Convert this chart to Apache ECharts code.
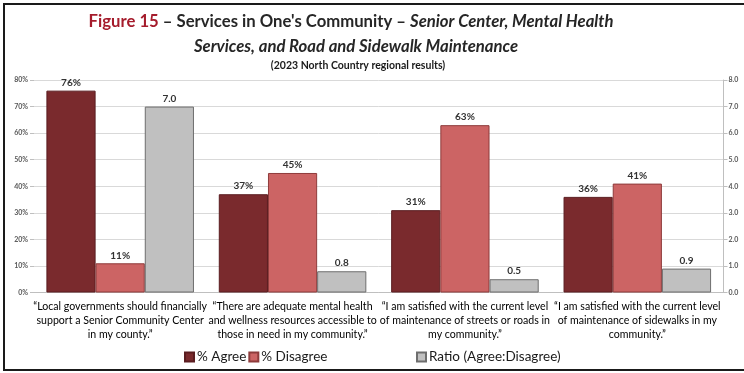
<!DOCTYPE html>
<html>
<head>
<meta charset="utf-8">
<script src="https://cdn.jsdelivr.net/npm/echarts@6/dist/echarts.min.js"></script>
<style>
  html, body { margin: 0; padding: 0; background: #fff; }
  #chart { width: 744px; height: 373px; }
</style>
</head>
<body>
<div id="chart"></div>
<script>
// Survey statements (category axis)
const categories = [
  '“Local governments should financially\nsupport a Senior Community Center\nin my county.”',
  '“There are adequate mental health\nand wellness resources accessible to\nthose in need in my community.”',
  '“I am satisfied with the current level\nof maintenance of streets or roads in\nmy community.”',
  '“I am satisfied with the current level\nof maintenance of sidewalks in my\ncommunity.”'
];
// Percent agreeing / disagreeing, and the agree:disagree ratio
const agreePct = [76, 37, 31, 36];
const disagreePct = [11, 45, 63, 41];
const ratioAgreeDisagree = [7.0, 0.8, 0.5, 0.9];
// Axis ranges
const pctMax = 80, pctStep = 10;
const ratioMax = 8, ratioStep = 1;

const FONT = 'Lato, "Open Sans", sans-serif';
const chart = echarts.init(document.getElementById('chart'), null, { renderer: 'canvas' });

const barLabel = (fmt) => ({
  show: true,
  position: 'top',
  distance: 3,
  fontFamily: FONT,
  fontSize: 10,
  fontWeight: 'bold',
  color: '#333',
  formatter: fmt
});

chart.setOption({
  backgroundColor: '#fff',
  animation: false,
  textStyle: { fontFamily: FONT },
  grid: { left: 34, right: 20.5, top: 80, bottom: 80.5, containLabel: false },
  graphic: [
    {
      type: 'rect',
      shape: { x: 4, y: 4, width: 760, height: 366 },
      style: { fill: 'none', stroke: '#1a1a1a', lineWidth: 2 },
      silent: true
    },
    {
      type: 'text',
      x: 351, y: 22,
      style: {
        text: '{r|Figure 15}{d| – Services in One\'s Community – }{i|Senior Center, Mental Health}',
        textAlign: 'center',
        textVerticalAlign: 'middle',
        rich: {
          r: { fontFamily: FONT, fontSize: 16.7, fontWeight: 'bold', fill: '#a51c2c', color: '#a51c2c' },
          d: { fontFamily: FONT, fontSize: 16.7, fontWeight: 'bold', fill: '#262626', color: '#262626' },
          i: { fontFamily: FONT, fontSize: 16.7, fontWeight: 'bold', fontStyle: 'italic', fill: '#262626', color: '#262626' }
        }
      }
    },
    {
      type: 'text',
      x: 356, y: 47,
      style: {
        text: 'Services, and Road and Sidewalk Maintenance',
        textAlign: 'center',
        textVerticalAlign: 'middle',
        font: 'italic bold 16.7px ' + FONT,
        fill: '#262626'
      }
    },
    {
      type: 'text',
      x: 358, y: 66,
      style: {
        text: '(2023 North Country regional results)',
        textAlign: 'center',
        textVerticalAlign: 'middle',
        font: 'bold 10.5px ' + FONT,
        fill: '#1a1a1a'
      }
    }
  ],
  legend: [
    {
      data: ['% Agree', '% Disagree'],
      left: 179, top: 345,
      icon: 'rect', itemWidth: 9, itemHeight: 9, itemGap: 2,
      textStyle: { fontFamily: FONT, fontSize: 13.5, color: '#1a1a1a', padding: [0, 0, 0, -2] }
    },
    {
      data: ['Ratio (Agree:Disagree)'],
      left: 411, top: 345,
      icon: 'rect', itemWidth: 9, itemHeight: 9,
      textStyle: { fontFamily: FONT, fontSize: 13.5, color: '#1a1a1a', padding: [0, 0, 0, -2] }
    }
  ],
  xAxis: {
    type: 'category',
    data: categories,
    axisLine: { show: true, lineStyle: { color: '#bfbfbf', width: 1 } },
    axisTick: { show: false },
    axisLabel: {
      interval: 0,
      margin: 7,
      fontFamily: FONT,
      fontSize: 10.6,
      lineHeight: 14,
      color: '#000',
      align: 'center'
    }
  },
  yAxis: [
    {
      type: 'value',
      min: 0, max: pctMax, interval: pctStep,
      axisLine: { show: false },
      axisTick: { show: true, length: 4, lineStyle: { color: '#bfbfbf' } },
      splitLine: { show: true, lineStyle: { color: '#d9d9d9', width: 1 } },
      axisLabel: {
        margin: 6,
        fontFamily: FONT, fontSize: 7, fontWeight: 'bold', color: '#595959',
        formatter: (v) => v + '%'
      }
    },
    {
      type: 'value',
      min: 0, max: ratioMax, interval: ratioStep,
      axisLine: { show: true, lineStyle: { color: '#bfbfbf', width: 1 } },
      axisTick: { show: true, length: 4, lineStyle: { color: '#bfbfbf' } },
      splitLine: { show: false },
      axisLabel: {
        margin: 5,
        fontFamily: FONT, fontSize: 7, fontWeight: 'bold', color: '#595959',
        formatter: (v) => v.toFixed(1)
      }
    }
  ],
  series: [
    {
      name: '% Agree',
      type: 'bar',
      yAxisIndex: 0,
      data: agreePct,
      barGap: '0%',
      barCategoryGap: '14.4%',
      itemStyle: { color: '#7a2a2d', borderColor: '#5a1d20', borderWidth: 1 },
      label: barLabel((p) => p.value + '%')
    },
    {
      name: '% Disagree',
      type: 'bar',
      yAxisIndex: 0,
      data: disagreePct,
      barGap: '0%',
      barCategoryGap: '14.4%',
      itemStyle: { color: '#cc6464', borderColor: '#8e3b3b', borderWidth: 1 },
      label: barLabel((p) => p.value + '%')
    },
    {
      name: 'Ratio (Agree:Disagree)',
      type: 'bar',
      yAxisIndex: 1,
      data: ratioAgreeDisagree,
      barGap: '0%',
      barCategoryGap: '14.4%',
      itemStyle: { color: '#c0c0c0', borderColor: '#6e6e6e', borderWidth: 1 },
      label: barLabel((p) => p.value.toFixed(1))
    }
  ]
});
</script>
</body>
</html>
